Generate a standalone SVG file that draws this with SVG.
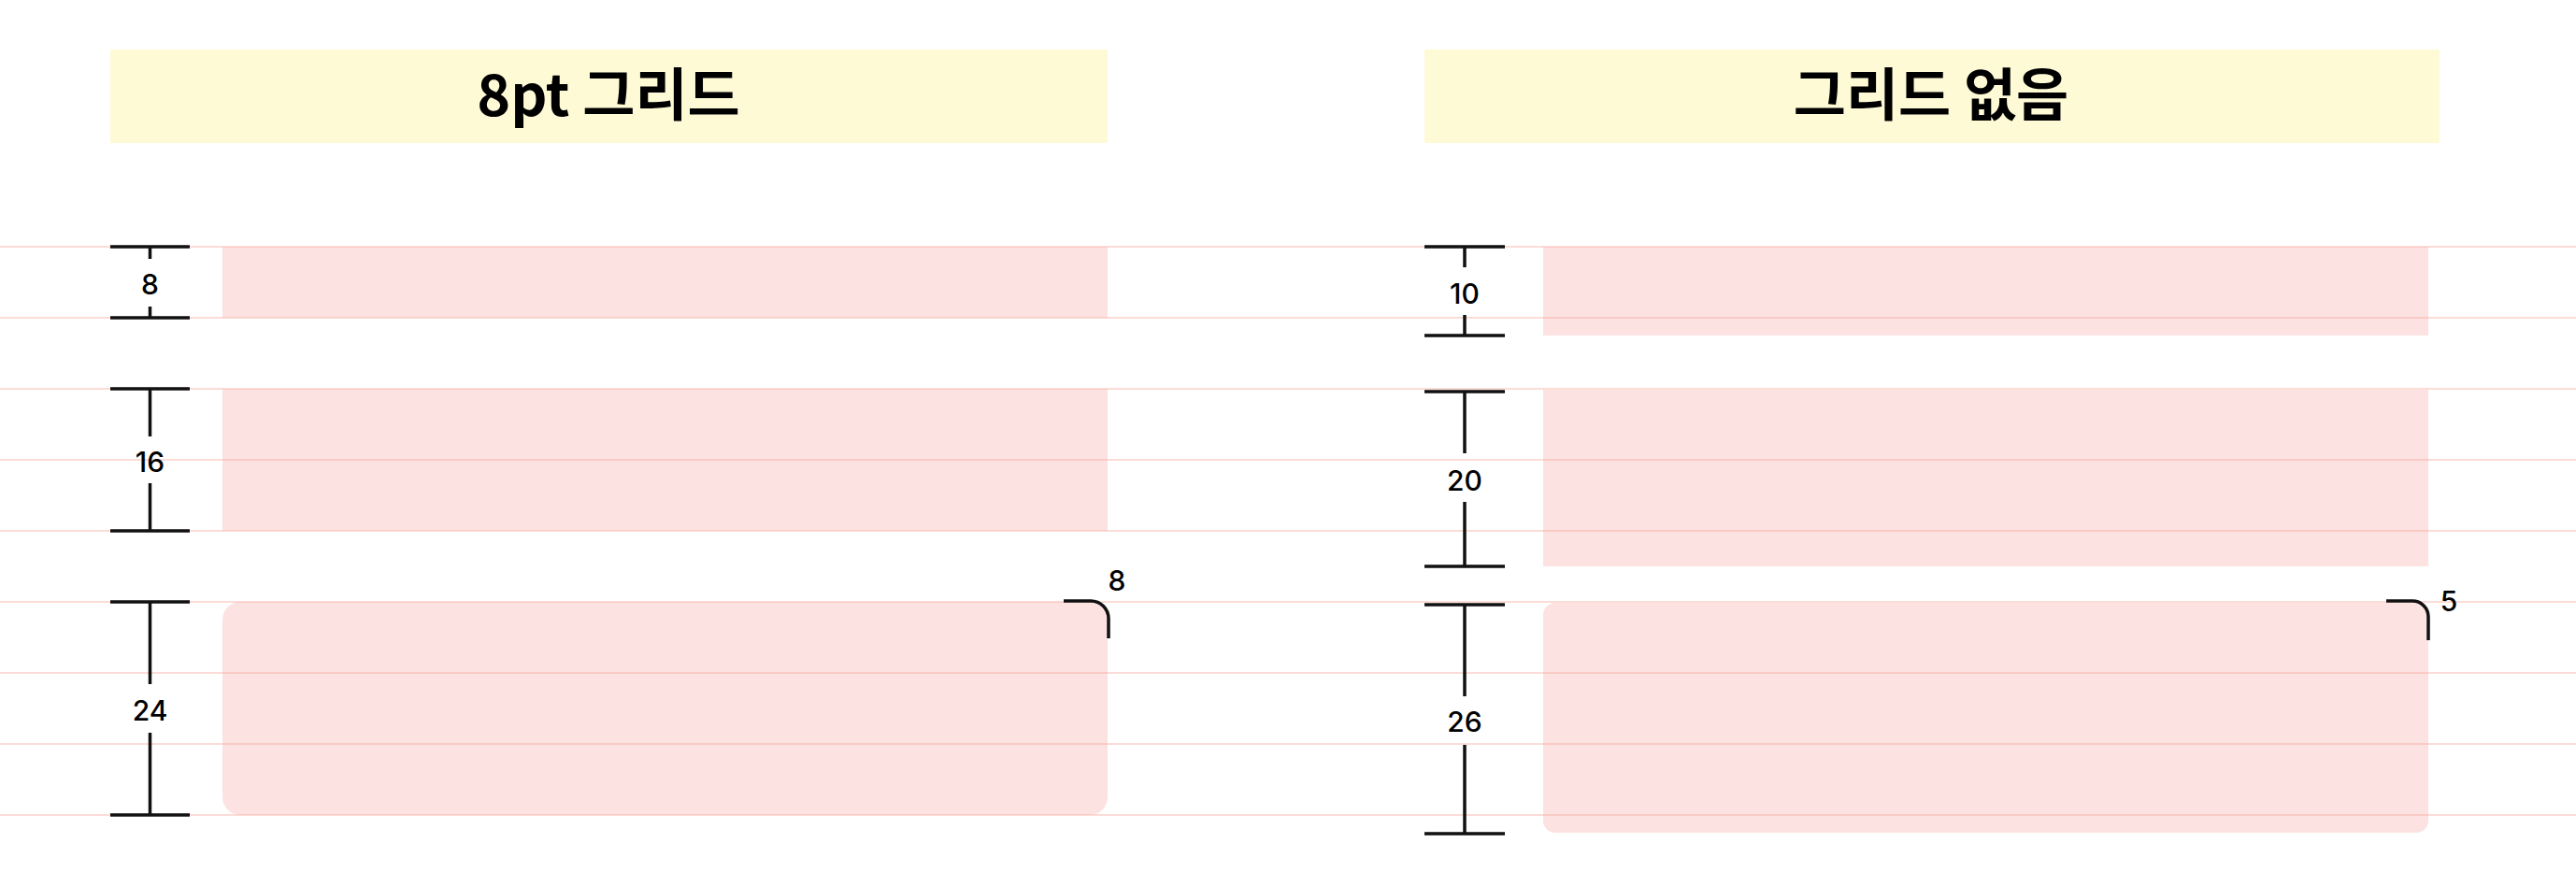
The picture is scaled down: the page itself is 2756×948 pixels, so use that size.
<svg xmlns="http://www.w3.org/2000/svg" width="2756" height="948" viewBox="0 0 2756 948">
<style>
.title{font-family:"Noto Sans CJK KR","Inter",sans-serif;font-weight:700;font-size:61px;fill:#000;text-anchor:middle}
.num{font-family:"Inter","Noto Sans",sans-serif;font-weight:500;font-size:30px;fill:#000;text-anchor:middle;dominant-baseline:central}
.band{fill:#fffad6}
.blk{fill:#fde2e2}
.grid{stroke:#f6a89c;stroke-opacity:0.4;stroke-width:2}
.tick{stroke:#111;stroke-width:3.5;fill:none}
</style>
<rect width="2756" height="948" fill="#fff"/>
<g id="header-left"><rect class="band" x="118" y="53" width="1067" height="100"/><text class="title" x="651" y="124">8pt 그리드</text></g>
<g id="header-right"><rect class="band" x="1524" y="53" width="1086" height="100"/><text class="title" x="2066" y="124">그리드 없음</text></g>
<g id="blocks-left">
<rect class="blk" x="238" y="264" width="947" height="76"/>
<rect class="blk" x="238" y="416" width="947" height="152"/>
<rect class="blk" x="238" y="644" width="947" height="228" rx="19"/>
</g>
<g id="blocks-right">
<rect class="blk" x="1651" y="264" width="947" height="95"/>
<rect class="blk" x="1651" y="417" width="947" height="189"/>
<rect class="blk" x="1651" y="645" width="947" height="246" rx="13"/>
</g>
<g id="grid">
<line class="grid" x1="0" y1="264" x2="2756" y2="264"/>
<line class="grid" x1="0" y1="340" x2="2756" y2="340"/>
<line class="grid" x1="0" y1="416" x2="2756" y2="416"/>
<line class="grid" x1="0" y1="492" x2="2756" y2="492"/>
<line class="grid" x1="0" y1="568" x2="2756" y2="568"/>
<line class="grid" x1="0" y1="644" x2="2756" y2="644"/>
<line class="grid" x1="0" y1="720" x2="2756" y2="720"/>
<line class="grid" x1="0" y1="796" x2="2756" y2="796"/>
<line class="grid" x1="0" y1="872" x2="2756" y2="872"/>
</g>
<g id="measures-left">
<path class="tick" d="M118 264H203M160.5 264V277M160.5 328V340M118 340H203"/>
<text class="num" x="160.5" y="304">8</text>
<path class="tick" d="M118 416H203M160.5 416V467M160.5 517V568M118 568H203"/>
<text class="num" x="160.5" y="494">16</text>
<path class="tick" d="M118 644H203M160.5 644V732M160.5 784V872M118 872H203"/>
<text class="num" x="160.5" y="760">24</text>
<path class="tick" d="M1138 643H1167A19 19 0 0 1 1186 662V683"/>
<text class="num" x="1195" y="621">8</text>
</g>
<g id="measures-right">
<path class="tick" d="M1524 264H1610M1567 264V286M1567 337V359M1524 359H1610"/>
<text class="num" x="1567" y="314">10</text>
<path class="tick" d="M1524 419H1610M1567 419V485M1567 537V606M1524 606H1610"/>
<text class="num" x="1567" y="514">20</text>
<path class="tick" d="M1524 647H1610M1567 647V745M1567 797V892M1524 892H1610"/>
<text class="num" x="1567" y="772">26</text>
<path class="tick" d="M2553 643H2581A17 17 0 0 1 2598 660V685"/>
<text class="num" x="2620" y="643">5</text>
</g>
</svg>
